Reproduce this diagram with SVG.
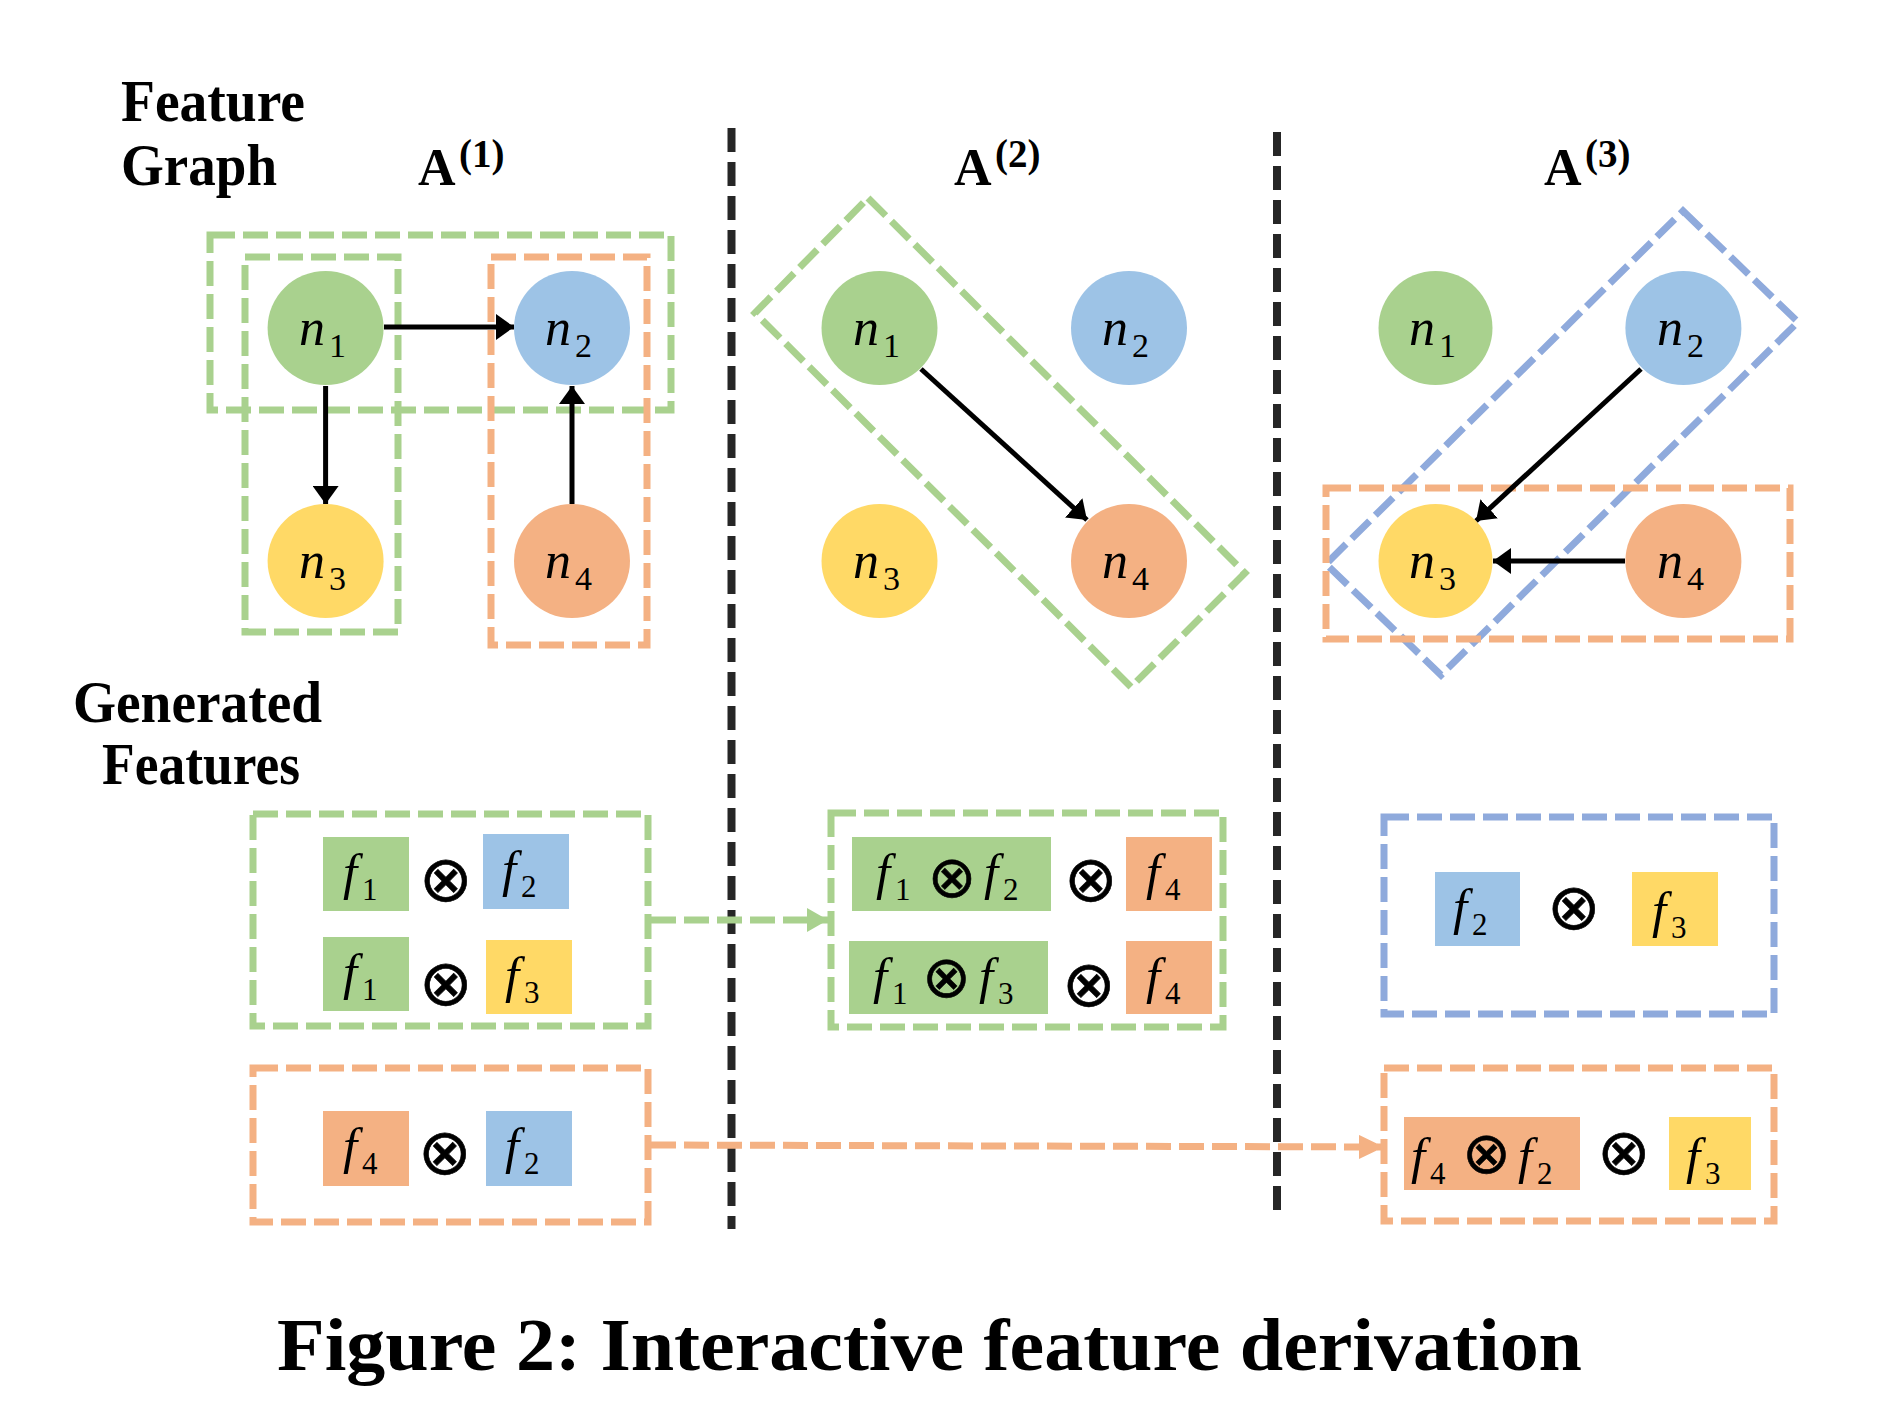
<svg xmlns="http://www.w3.org/2000/svg" width="1899" height="1424" viewBox="0 0 1899 1424">
<style>
.title{font-family:"Liberation Serif","Times New Roman",serif;font-weight:bold;font-size:59px;fill:#000}
.amat{font-family:"Liberation Serif","Times New Roman",serif;font-weight:bold;font-size:52px;fill:#000}
.sup{font-size:39px}
.nl{font-family:"Liberation Serif","Times New Roman",serif;font-style:italic;font-size:52px;fill:#000}
.ns{font-style:normal;font-size:34px}
.fl{font-family:"Liberation Serif","Times New Roman",serif;font-style:italic;font-size:51px;fill:#000}
.fs{font-style:normal;font-size:31px}
.op{font-family:"DejaVu Sans",sans-serif;font-style:normal;font-size:64px;stroke:#000;stroke-width:0.6}
.op2{font-family:"DejaVu Sans",sans-serif;font-style:normal;font-size:58px;stroke:#000;stroke-width:0.6}
.dash{fill:none;stroke-width:7;stroke-dasharray:25 8}
.dg{stroke:#A9D18E}
.do{stroke:#F4B183}
.db{stroke:#8FAADC}
.div{stroke:#262626;stroke-width:8;stroke-dasharray:24 10;fill:none}
.edge{stroke:#000;stroke-width:5;fill:none;marker-end:url(#ah)}
.gfill{fill:#A9D18E}.bfill{fill:#9DC3E6}.yfill{fill:#FFD966}.ofill{fill:#F4B183}
</style>
<defs>
<marker id="ah" markerUnits="userSpaceOnUse" markerWidth="20" markerHeight="26" refX="18" refY="13" orient="auto"><path d="M0,0 L18,13 L0,26 z" fill="#000"/></marker>
<marker id="ahg" markerUnits="userSpaceOnUse" markerWidth="22" markerHeight="24" refX="21" refY="12" orient="auto"><path d="M0,0 L21,12 L0,24 z" fill="#A9D18E"/></marker>
<marker id="aho" markerUnits="userSpaceOnUse" markerWidth="26" markerHeight="24" refX="25" refY="12" orient="auto"><path d="M0,0 L25,12 L0,24 z" fill="#F4B183"/></marker>
</defs>
<rect width="1899" height="1424" fill="#fff"/>

<g id="labels">
<text class="title" x="121" y="121" textLength="184" lengthAdjust="spacingAndGlyphs">Feature</text>
<text class="title" x="121" y="185" textLength="156" lengthAdjust="spacingAndGlyphs">Graph</text>
<text class="title" x="73" y="722" textLength="249" lengthAdjust="spacingAndGlyphs">Generated</text>
<text class="title" x="102" y="784" textLength="198" lengthAdjust="spacingAndGlyphs">Features</text>
<text class="amat" x="418" y="185">A<tspan class="sup" x="459" y="167">(1)</tspan></text>
<text class="amat" x="954" y="185">A<tspan class="sup" x="995" y="167">(2)</tspan></text>
<text class="amat" x="1544" y="185">A<tspan class="sup" x="1585" y="167">(3)</tspan></text>
<text class="title" x="277" y="1370" style="font-size:75px" textLength="1305" lengthAdjust="spacingAndGlyphs">Figure 2: Interactive feature derivation</text>
</g>

<g id="dividers">
<line class="div" x1="731.5" y1="128" x2="731.5" y2="1229"/>
<line class="div" x1="1277" y1="132" x2="1277" y2="1218"/>
</g>

<g id="groups">
<rect id="p1-group-n1n2" class="dash dg" x="210" y="235" width="461" height="175"/>
<rect id="p1-group-n1n3" class="dash dg" x="245" y="257" width="153" height="375"/>
<rect id="p1-group-n4n2" class="dash do" x="491" y="257" width="156" height="388"/>
<polygon id="p2-group-n1n4" class="dash dg" points="868,198 1245,573 1131,687 755,313"/>
<polygon id="p3-group-n2n3" class="dash db" points="1683,211 1798,322 1441,675 1326,564"/>
<rect id="p3-group-n4n3" class="dash do" x="1326" y="488" width="464" height="151"/>
<rect id="p1-gen-green" class="dash dg" x="253" y="814" width="395" height="212"/>
<rect id="p1-gen-orange" class="dash do" x="253" y="1068" width="395" height="154"/>
<rect id="p2-gen-green" class="dash dg" x="831" y="813" width="392" height="214"/>
<rect id="p3-gen-blue" class="dash db" x="1384" y="817" width="390" height="197"/>
<rect id="p3-gen-orange" class="dash do" x="1384" y="1068" width="390" height="153"/>
</g>

<g id="connectors">
<line class="edge" x1="384" y1="327" x2="514" y2="327"/>
<line class="edge" x1="325.6" y1="386" x2="325.6" y2="504"/>
<line class="edge" x1="572" y1="504" x2="572" y2="386"/>
<line class="edge" x1="921" y1="369" x2="1087" y2="520"/>
<line class="edge" x1="1641" y1="369" x2="1476" y2="521"/>
<line class="edge" x1="1625" y1="561" x2="1493" y2="561"/>
<line class="dash dg" x1="651" y1="920" x2="828" y2="920" marker-end="url(#ahg)"/>
<line class="dash do" x1="651" y1="1145" x2="1384" y2="1147" marker-end="url(#aho)"/>
</g>

<g id="p1-n1"><ellipse cx="325.6" cy="328" rx="58" ry="57" class="gfill"/><text class="nl" x="299" y="345">n<tspan class="ns" x="329" y="357">1</tspan></text></g>
<g id="p1-n2"><ellipse cx="572" cy="328" rx="58" ry="57" class="bfill"/><text class="nl" x="545" y="345">n<tspan class="ns" x="575" y="357">2</tspan></text></g>
<g id="p1-n3"><ellipse cx="325.6" cy="561" rx="58" ry="57" class="yfill"/><text class="nl" x="299" y="578">n<tspan class="ns" x="329" y="590">3</tspan></text></g>
<g id="p1-n4"><ellipse cx="572" cy="561" rx="58" ry="57" class="ofill"/><text class="nl" x="545" y="578">n<tspan class="ns" x="575" y="590">4</tspan></text></g>

<g id="p2-n1"><ellipse cx="879.5" cy="328" rx="58" ry="57" class="gfill"/><text class="nl" x="853" y="345">n<tspan class="ns" x="883" y="357">1</tspan></text></g>
<g id="p2-n2"><ellipse cx="1129" cy="328" rx="58" ry="57" class="bfill"/><text class="nl" x="1102" y="345">n<tspan class="ns" x="1132" y="357">2</tspan></text></g>
<g id="p2-n3"><ellipse cx="879.5" cy="561" rx="58" ry="57" class="yfill"/><text class="nl" x="853" y="578">n<tspan class="ns" x="883" y="590">3</tspan></text></g>
<g id="p2-n4"><ellipse cx="1129" cy="561" rx="58" ry="57" class="ofill"/><text class="nl" x="1102" y="578">n<tspan class="ns" x="1132" y="590">4</tspan></text></g>

<g id="p3-n1"><ellipse cx="1435.5" cy="328" rx="57" ry="57" class="gfill"/><text class="nl" x="1409" y="345">n<tspan class="ns" x="1439" y="357">1</tspan></text></g>
<g id="p3-n2"><ellipse cx="1683.4" cy="328" rx="58" ry="57" class="bfill"/><text class="nl" x="1657" y="345">n<tspan class="ns" x="1687" y="357">2</tspan></text></g>
<g id="p3-n3"><ellipse cx="1435.5" cy="561" rx="57" ry="57" class="yfill"/><text class="nl" x="1409" y="578">n<tspan class="ns" x="1439" y="590">3</tspan></text></g>
<g id="p3-n4"><ellipse cx="1683.4" cy="561" rx="58" ry="57" class="ofill"/><text class="nl" x="1657" y="578">n<tspan class="ns" x="1687" y="590">4</tspan></text></g>

<g id="p1-feat1">
<rect x="323" y="837" width="86" height="74" class="gfill"/>
<rect x="483" y="834" width="86" height="75" class="bfill"/>
<text class="fl"><tspan x="343" y="889">f</tspan><tspan class="fs" x="362" y="900">1</tspan><tspan class="op" x="419" y="901">⊗</tspan><tspan x="502" y="886">f</tspan><tspan class="fs" x="521" y="897">2</tspan></text>
</g>
<g id="p1-feat2">
<rect x="323" y="937" width="86" height="74" class="gfill"/>
<rect x="486" y="940" width="86" height="74" class="yfill"/>
<text class="fl"><tspan x="343" y="989">f</tspan><tspan class="fs" x="362" y="1000">1</tspan><tspan class="op" x="419" y="1005">⊗</tspan><tspan x="505" y="992">f</tspan><tspan class="fs" x="524" y="1003">3</tspan></text>
</g>
<g id="p1-feat3">
<rect x="323" y="1111" width="86" height="75" class="ofill"/>
<rect x="486" y="1111" width="86" height="75" class="bfill"/>
<text class="fl"><tspan x="343" y="1163">f</tspan><tspan class="fs" x="362" y="1174">4</tspan><tspan class="op" x="418" y="1174">⊗</tspan><tspan x="505" y="1163">f</tspan><tspan class="fs" x="524" y="1174">2</tspan></text>
</g>

<g id="p2-feat1">
<rect x="852" y="837" width="199" height="74" class="gfill"/>
<rect x="1126" y="837" width="86" height="74" class="ofill"/>
<text class="fl"><tspan x="876" y="889">f</tspan><tspan class="fs" x="895" y="900">1</tspan><tspan class="op2" x="927.7" y="897">⊗</tspan><tspan x="984" y="889">f</tspan><tspan class="fs" x="1003" y="900">2</tspan><tspan class="op" x="1064" y="901">⊗</tspan><tspan x="1146" y="889">f</tspan><tspan class="fs" x="1165" y="900">4</tspan></text>
</g>
<g id="p2-feat2">
<rect x="849" y="941" width="199" height="73" class="gfill"/>
<rect x="1126" y="941" width="86" height="73" class="ofill"/>
<text class="fl"><tspan x="873" y="993">f</tspan><tspan class="fs" x="892" y="1004">1</tspan><tspan class="op2" x="922.2" y="997">⊗</tspan><tspan x="979" y="993">f</tspan><tspan class="fs" x="998" y="1004">3</tspan><tspan class="op" x="1062" y="1005.5">⊗</tspan><tspan x="1146" y="993">f</tspan><tspan class="fs" x="1165" y="1004">4</tspan></text>
</g>

<g id="p3-feat1">
<rect x="1435" y="872" width="85" height="74" class="bfill"/>
<rect x="1632" y="872" width="86" height="74" class="yfill"/>
<text class="fl"><tspan x="1453" y="924">f</tspan><tspan class="fs" x="1472" y="935">2</tspan><tspan class="op" x="1547" y="929">⊗</tspan><tspan x="1652" y="927">f</tspan><tspan class="fs" x="1671" y="938">3</tspan></text>
</g>
<g id="p3-feat2">
<rect x="1404" y="1117" width="176" height="73" class="ofill"/>
<rect x="1669" y="1117" width="82" height="73" class="yfill"/>
<text class="fl"><tspan x="1411" y="1173">f</tspan><tspan class="fs" x="1430" y="1184">4</tspan><tspan class="op2" x="1462.3" y="1173">⊗</tspan><tspan x="1518" y="1173">f</tspan><tspan class="fs" x="1537" y="1184">2</tspan><tspan class="op" x="1597" y="1174">⊗</tspan><tspan x="1686" y="1173">f</tspan><tspan class="fs" x="1705" y="1184">3</tspan></text>
</g>
</svg>
